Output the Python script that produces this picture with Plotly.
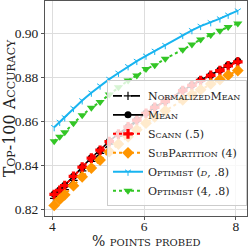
import plotly.graph_objects as go

x_pct = [4.04, 4.16, 4.27, 4.46, 4.65, 4.85, 5.04, 5.24, 5.44, 5.65, 5.84,
         6.04, 6.23, 6.46, 6.84, 7.04, 7.23, 7.45, 7.65, 7.83, 8.04]

normalized_mean = [0.8250, 0.8268, 0.8290, 0.8332, 0.8375, 0.8418, 0.8455, 0.8497, 0.8533, 0.8570, 0.8603,
                   0.8635, 0.8664, 0.8690, 0.8741, 0.8764, 0.8787, 0.8810, 0.8832, 0.8855, 0.8873]
mean = [0.8270, 0.8288, 0.8310, 0.8351, 0.8393, 0.8435, 0.8470, 0.8510, 0.8543, 0.8576, 0.8607,
        0.8638, 0.8666, 0.8692, 0.8742, 0.8765, 0.8788, 0.8810, 0.8833, 0.8856, 0.8874]
scann = [0.8268, 0.8287, 0.8308, 0.8350, 0.8392, 0.8433, 0.8469, 0.8508, 0.8542, 0.8575, 0.8606,
         0.8637, 0.8664, 0.8690, 0.8740, 0.8764, 0.8786, 0.8809, 0.8831, 0.8852, 0.8870]
subpartition = [0.8218, 0.8245, 0.8266, 0.8308, 0.8348, 0.8388, 0.8424, 0.8462, 0.8497, 0.8530, 0.8562,
                0.8592, 0.8620, 0.8648, 0.8698, 0.8722, 0.8744, 0.8770, 0.8790, 0.8810, 0.8831]
optimist_d = [0.8573, 0.8597, 0.8618, 0.8660, 0.8695, 0.8730, 0.8762, 0.8792, 0.8820, 0.8850, 0.8874,
              0.8898, 0.8920, 0.8946, 0.8992, 0.9014, 0.9033, 0.9050, 0.9067, 0.9084, 0.9103]
optimist_4 = [0.8510, 0.8530, 0.8551, 0.8591, 0.8628, 0.8662, 0.8688, 0.8722, 0.8755, 0.8786, 0.8808,
              0.8838, 0.8855, 0.8885, 0.8926, 0.8949, 0.8972, 0.8993, 0.9012, 0.9029, 0.9045]

x_ticks = [4, 6, 8]
y_ticks = [0.82, 0.84, 0.86, 0.88, 0.90]
y_tick_labels = ["0.82", "0.84", "0.86", "0.88", "0.90"]
x_title = "% points probed"
y_title = "Top-100 Accuracy"

FONT = "Liberation Serif, DejaVu Serif, serif"
WIDE = "DejaVu Serif, Liberation Serif, serif"

fig = go.Figure()
fig.add_trace(go.Scatter(x=x_pct, y=normalized_mean, name="NormalizedMean", mode="lines+markers",
                         line=dict(color="black", width=1.6, dash="dash"),
                         marker=dict(symbol="cross-thin-open", size=6, line=dict(color="black", width=1.2))))
fig.add_trace(go.Scatter(x=x_pct, y=mean, name="Mean", mode="lines+markers",
                         line=dict(color="black", width=1.6),
                         marker=dict(symbol="circle", size=7, color="black")))
fig.add_trace(go.Scatter(x=x_pct, y=scann, name="Scann (.5)", mode="lines+markers",
                         line=dict(color="#ff0000", width=2, dash="dot"),
                         marker=dict(symbol="cross", size=8, color="#ff0000")))
fig.add_trace(go.Scatter(x=x_pct, y=subpartition, name="SubPartition (4)", mode="lines+markers",
                         line=dict(color="#ff9500", width=2, dash="dot"),
                         marker=dict(symbol="diamond", size=9, color="#ff9500")))
fig.add_trace(go.Scatter(x=x_pct, y=optimist_d, name="Optimist (<i>d</i>, .8)", mode="lines+markers",
                         line=dict(color="#18b4f0", width=2),
                         marker=dict(symbol="y-down", size=5, line=dict(color="#18b4f0", width=1))))
fig.add_trace(go.Scatter(x=x_pct, y=optimist_4, name="Optimist (4, .8)", mode="lines+markers",
                         line=dict(color="#33c626", width=2, dash="dot"),
                         marker=dict(symbol="triangle-down", size=8, color="#33c626")))

axis_common = dict(showline=True, linecolor="#555555", linewidth=1, mirror=True,
                   showgrid=True, gridcolor="#dddddd", gridwidth=1, automargin=False,
                   ticks="outside", ticklen=3, tickcolor="#555555", zeroline=False,
                   tickfont=dict(family=FONT, size=13.5, color="#222222"))

fig.update_xaxes(range=[3.84, 8.24], tickvals=x_ticks, ticktext=[str(v) for v in x_ticks],
                 ticklabelstandoff=-5, **axis_common)
fig.update_yaxes(range=[0.817, 0.9147], tickvals=y_ticks, ticktext=y_tick_labels,
                 title=dict(text=y_title, standoff=0,
                            font=dict(family=WIDE, size=16, color="#222222", variant="small-caps")),
                 **axis_common)

fig.add_annotation(text=x_title, xref="paper", yref="paper", x=0.5, y=-0.116,
                   xanchor="center", yanchor="middle", showarrow=False, borderpad=0,
                   font=dict(family=WIDE, size=14, color="#222222", variant="small-caps"))

fig.update_layout(
    width=249, height=249,
    margin=dict(l=45, r=2, t=1, b=33),
    plot_bgcolor="white", paper_bgcolor="white",
    font=dict(family=FONT, color="#222222"),
    legend=dict(x=1, xanchor="right", y=0.045, yanchor="bottom",
                bgcolor="rgba(255,255,255,0.8)", bordercolor="#cccccc", borderwidth=1,
                font=dict(family=WIDE, size=11, color="#222222", variant="small-caps"),
                itemwidth=30, tracegroupgap=0),
)

fig.write_html("out.html", config={"displayModeBar": False},
               post_script="document.body.style.margin='0';document.body.style.overflow='hidden';")
